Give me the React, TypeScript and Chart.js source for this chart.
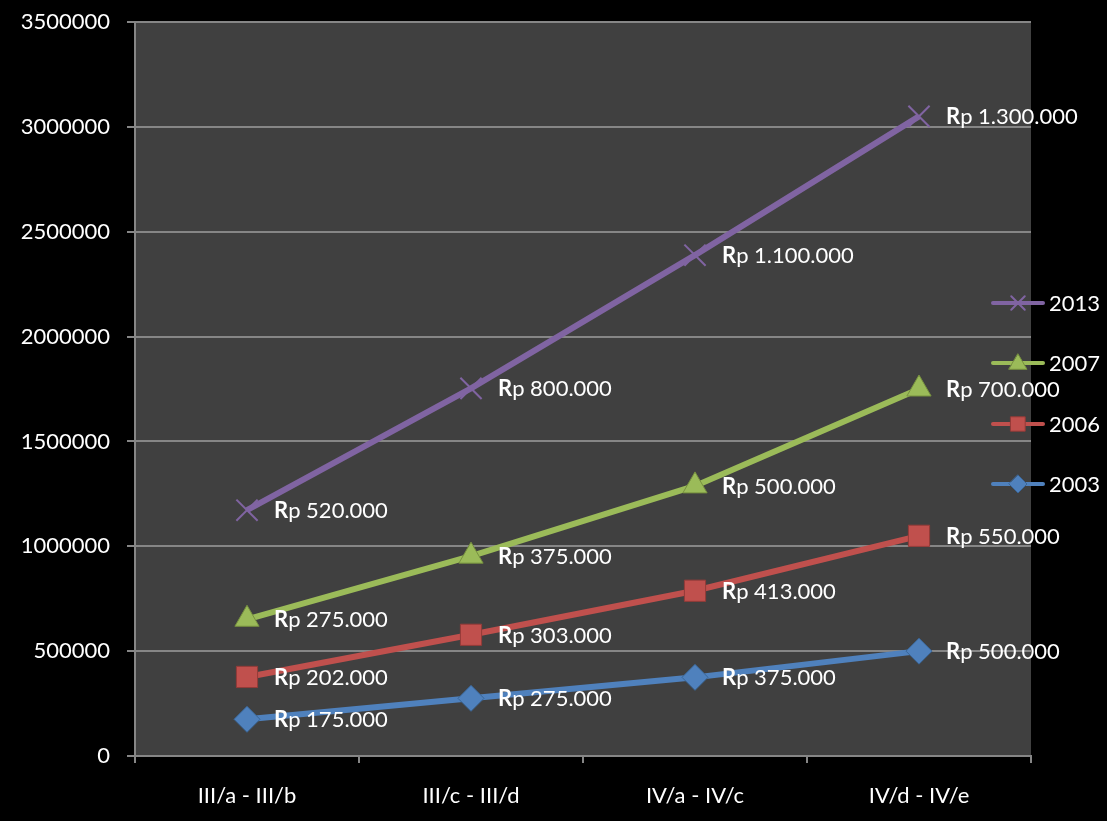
import React, { useEffect, useRef } from "react";
import { Chart, registerables } from "chart.js";

Chart.register(...registerables);

const categories = ["III/a - III/b", "III/c - III/d", "IV/a - IV/c", "IV/d - IV/e"];
const seriesNames = ["2003", "2006", "2007", "2013"];
const values2003 = [175000, 275000, 375000, 500000];
const values2006 = [202000, 303000, 413000, 550000];
const values2007 = [275000, 375000, 500000, 700000];
const values2013 = [520000, 800000, 1100000, 1300000];
const yTicksMax = 3500000;
const yTicksStep = 500000;

const seriesColors = ["#4F81BD", "#C0504D", "#9BBB59", "#8064A2"];
const seriesBorders = ["#3A6596", "#943B38", "#77913F", "#6A4F8C"];
const pointStyles = ["rectRot", "rect", "triangle", "crossRot"];
const FONT = "Lato, 'Open Sans', sans-serif";
const FS = 22;

function fmt(n: number): string {
  return String(n).replace(/\B(?=(\d{3})+(?!\d))/g, ".");
}

function drawMarker(ctx: CanvasRenderingContext2D, style: string, x: number, y: number, r: number, fill: string, stroke: string) {
  ctx.save();
  ctx.fillStyle = fill;
  ctx.strokeStyle = stroke;
  ctx.lineWidth = 1;
  ctx.beginPath();
  if (style === "rectRot") {
    ctx.moveTo(x, y - r);
    ctx.lineTo(x + r, y);
    ctx.lineTo(x, y + r);
    ctx.lineTo(x - r, y);
    ctx.closePath();
    ctx.fill();
    ctx.stroke();
  } else if (style === "rect") {
    const s = r * 0.8;
    ctx.rect(x - s, y - s, 2 * s, 2 * s);
    ctx.fill();
    ctx.stroke();
  } else if (style === "triangle") {
    ctx.moveTo(x, y - r);
    ctx.lineTo(x + r, y + r * 0.7);
    ctx.lineTo(x - r, y + r * 0.7);
    ctx.closePath();
    ctx.fill();
    ctx.stroke();
  } else {
    ctx.lineWidth = 2;
    ctx.strokeStyle = fill;
    const s = r * 0.75;
    ctx.moveTo(x - s, y - s);
    ctx.lineTo(x + s, y + s);
    ctx.moveTo(x + s, y - s);
    ctx.lineTo(x - s, y + s);
    ctx.stroke();
  }
  ctx.restore();
}

const bgPlugin = {
  id: "bgPlugin",
  beforeDraw(chart: any) {
    const { ctx, chartArea } = chart;
    ctx.save();
    ctx.fillStyle = "#000000";
    ctx.fillRect(0, 0, chart.width, chart.height);
    ctx.fillStyle = "#404040";
    ctx.fillRect(chartArea.left, chartArea.top, chartArea.right - chartArea.left, chartArea.bottom - chartArea.top);
    ctx.restore();
  },
};

const labelPlugin = {
  id: "labelPlugin",
  afterDatasetsDraw(chart: any) {
    const { ctx } = chart;
    ctx.save();
    ctx.textBaseline = "middle";
    ctx.textAlign = "left";
    ctx.fillStyle = "#ffffff";
    chart.data.datasets.forEach((ds: any, di: number) => {
      const meta = chart.getDatasetMeta(di);
      meta.data.forEach((pt: any, i: number) => {
        const x = pt.x + 27;
        const y = pt.y + 1;
        ctx.font = `bold ${FS}px ${FONT}`;
        ctx.fillText("R", x, y);
        const w = ctx.measureText("R").width;
        ctx.font = `${FS}px ${FONT}`;
        ctx.fillText("p " + fmt(ds.data[i]), x + w, y);
      });
    });
    ctx.restore();
  },
};

const legendPlugin = {
  id: "legendPlugin",
  afterDraw(chart: any) {
    const { ctx } = chart;
    const ys = [484, 424, 363, 303];
    ctx.save();
    seriesNames.forEach((name, i) => {
      const y = ys[i];
      ctx.strokeStyle = seriesColors[i];
      ctx.lineWidth = 4;
      ctx.lineCap = "round";
      ctx.beginPath();
      ctx.moveTo(993, y);
      ctx.lineTo(1043, y);
      ctx.stroke();
      drawMarker(ctx, pointStyles[i], 1018, y, 9, seriesColors[i], seriesBorders[i]);
      ctx.fillStyle = "#ffffff";
      ctx.font = `${FS}px ${FONT}`;
      ctx.textBaseline = "middle";
      ctx.textAlign = "left";
      ctx.fillText(name, 1049, y + 1);
    });
    ctx.restore();
  },
};

export default function App() {
  const ref = useRef<HTMLCanvasElement | null>(null);
  useEffect(() => {
    if (!ref.current) return;
    const all = [values2003, values2006, values2007, values2013];
    const chart = new Chart(ref.current, {
      type: "line",
      data: {
        labels: categories,
        datasets: all.map((vals, i) => ({
          label: seriesNames[i],
          data: vals,
          borderColor: seriesColors[i],
          backgroundColor: seriesColors[i],
          borderWidth: 6,
          tension: 0,
          fill: false,
          pointStyle: pointStyles[i] as any,
          pointRadius: pointStyles[i] === "rect" ? 15 : pointStyles[i] === "crossRot" ? 15 : pointStyles[i] === "triangle" ? 14 : 13,
          pointBackgroundColor: seriesColors[i],
          pointBorderColor: pointStyles[i] === "crossRot" ? seriesColors[i] : seriesBorders[i],
          pointBorderWidth: pointStyles[i] === "crossRot" ? 2 : 1,
        })),
      },
      options: {
        responsive: false,
        maintainAspectRatio: false,
        animation: false,
        layout: { padding: { left: 0, right: 76, top: 22, bottom: 0 } },
        plugins: {
          legend: { display: false },
          tooltip: { enabled: false },
        },
        scales: {
          x: {
            offset: true,
            afterFit: (s: any) => {
              s.height = 65;
            },
            grid: {
              offset: true,
              drawOnChartArea: false,
              drawTicks: true,
              tickLength: 7,
              color: "#868686",
              lineWidth: 2,
            },
            border: { display: true, color: "#868686", width: 2 },
            ticks: {
              color: "#ffffff",
              font: { family: FONT, size: FS },
              padding: 20,
              maxRotation: 0,
            },
          },
          y: {
            stacked: true,
            min: 0,
            max: yTicksMax,
            afterFit: (s: any) => {
              s.width = 135;
              s.paddingTop = 10;
              s.paddingBottom = 10;
            },
            grid: {
              color: "#868686",
              lineWidth: 2,
              tickLength: 8,
            },
            border: { display: true, color: "#868686", width: 2 },
            ticks: {
              stepSize: yTicksStep,
              color: "#ffffff",
              font: { family: FONT, size: FS },
              padding: 17,
              callback: (v: any) => String(v),
            },
          },
        },
      },
      plugins: [bgPlugin, labelPlugin, legendPlugin],
    });
    return () => chart.destroy();
  }, []);
  return (
    <div style={{ position: "absolute", left: 0, top: 0, width: 1107, height: 821, background: "#000" }}>
      <canvas ref={ref} width={1107} height={821} style={{ display: "block" }} />
    </div>
  );
}
